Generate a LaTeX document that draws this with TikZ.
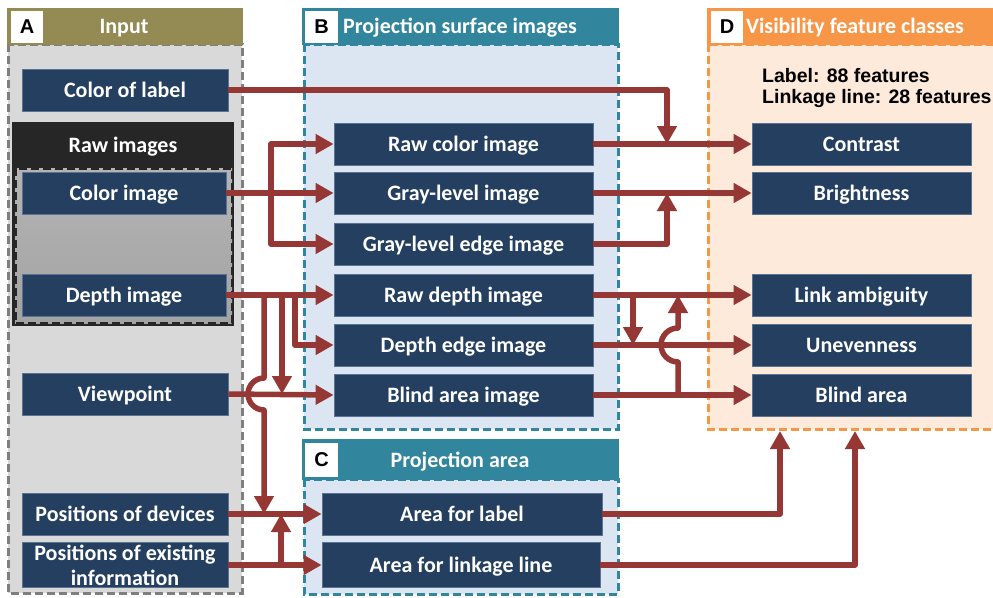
\documentclass[tikz,border=0pt]{standalone}
\usepackage{fontspec}
\setmainfont{Carlito}
\newfontfamily\arialfont{Liberation Sans}
\usetikzlibrary{arrows.meta,calc}

\definecolor{boxblue}{HTML}{243F60}
\definecolor{boxedge}{HTML}{5A7294}
\definecolor{arrowred}{HTML}{953735}
\definecolor{olivehd}{HTML}{948A54}
\definecolor{tealhd}{HTML}{31859C}
\definecolor{orangehd}{HTML}{F79646}
\definecolor{afill}{HTML}{D9D9D9}
\definecolor{aedge}{HTML}{7F7F7F}
\definecolor{bfill}{HTML}{DCE6F2}
\definecolor{dfill}{HTML}{FDEADA}
\definecolor{rawblack}{HTML}{262626}
\definecolor{rawtop}{HTML}{B4B4B4}
\definecolor{rawbot}{HTML}{A3A3A3}

\begin{document}
\begin{tikzpicture}[x=1pt,y=-1pt,
  box/.style={rectangle, fill=boxblue, draw=boxedge, line width=0.8pt,
    text=white, inner sep=0pt, align=center,
    font=\bfseries\fontsize{22}{25}\selectfont},
  sbox/.style={box, text height=16pt, text depth=2pt},
  lbox/.style={sbox, minimum width=206pt, minimum height=42pt},
  bbox/.style={sbox, minimum width=259pt, minimum height=42pt},
  dbox/.style={sbox, minimum width=219pt, minimum height=42pt},
  letter/.style={rectangle, fill=white, inner sep=0pt, minimum width=32pt,
    minimum height=32pt, font=\arialfont\bfseries\fontsize{20}{20}\selectfont},
  headtext/.style={text=white, inner sep=0pt, text height=16pt, text depth=2pt,
    font=\bfseries\fontsize{22}{22}\selectfont},
  panelborder/.style={line width=3pt, dash pattern=on 8pt off 4pt},
  arr/.style={draw=arrowred, line width=5.5pt, line join=round,
    -{Triangle[length=18pt,width=19pt]}}]

\clip (0,0) rectangle (993,597);
\fill[white] (0,0) rectangle (993,597);

% ---------- Panel A: Input ----------
\fill[afill] (8,44) rectangle (242,593);
\draw[aedge, panelborder] (8,44) rectangle (242,593);
\fill[olivehd] (7,8) rectangle (243,45);
\node[letter] (la) at (27,27) {A};
\node[headtext] (ta) at (124,26) {Input};

% raw images group
\fill[rawblack] (12,122) rectangle (234,326);
\shade[top color=rawtop, bottom color=rawbot] (15,168) rectangle (232,323);
\draw[rawblack, line width=3pt, dash pattern=on 8pt off 4pt] (15,168) rectangle (232,323);
\node[headtext] (rawhd) at (123,145) {Raw images};

\node[lbox] (cl) at (125,90) {Color of label};
\node[lbox, minimum width=204pt] (ci) at (124,193) {Color image};
\node[lbox, minimum width=204pt] (di) at (124,295) {Depth image};
\node[lbox] (vp) at (125,394) {Viewpoint};
\node[lbox] (pd) at (125,514) {Positions of devices};
\node[box, minimum width=206pt, minimum height=45pt] (pe) at (125,565)
  {Positions of existing\\information};

% ---------- Panel B: projection surface images ----------
\fill[bfill] (304,44) rectangle (618,429);
\draw[tealhd, panelborder] (304,44) rectangle (618,429);
\fill[tealhd] (302,8) rectangle (619,45);
\node[letter, minimum width=33pt] (lb) at (321.5,27) {B};
\node[headtext] (tb) at (460,26) {Projection surface images};

\node[bbox] (rci) at (463.5,144) {Raw color image};
\node[bbox] (gli) at (463.5,193) {Gray-level image};
\node[bbox] (gle) at (463.5,244) {Gray-level edge image};
\node[bbox] (rdi) at (463.5,295) {Raw depth image};
\node[bbox] (dei) at (463.5,345) {Depth edge image};
\node[bbox] (bai) at (463.5,395) {Blind area image};

% ---------- Panel C: projection area ----------
\fill[bfill] (304,479) rectangle (618,594);
\draw[tealhd, panelborder] (304,479) rectangle (618,594);
\fill[tealhd] (302,439) rectangle (619,480);
\node[letter, minimum width=33pt, minimum height=34pt] (lc) at (321.5,460) {C};
\node[headtext] (tc) at (460,460) {Projection area};

\node[sbox, minimum width=280pt, minimum height=42pt] (afl) at (462,514) {Area for label};
\node[sbox, minimum width=278pt, minimum height=45pt] (afll) at (461,565) {Area for linkage line};

% ---------- Panel D: visibility feature classes ----------
\fill[dfill] (708,44) rectangle (1000,429);
\draw[orangehd, panelborder] (708,44) rectangle (1000,429);
\fill[orangehd] (707,8) rectangle (1000,45);
\node[letter] (ld) at (727,27) {D};
\node[headtext] (td) at (855,26) {Visibility feature classes};

\node[anchor=base west, inner sep=0pt, font=\arialfont\bfseries\fontsize{19.5}{20}\selectfont]
  (nlab) at (762,82) {Label: 88 features};
\node[anchor=base west, inner sep=0pt, font=\arialfont\bfseries\fontsize{19.5}{20}\selectfont]
  (nlnk) at (762,103) {Linkage line: 28 features};

\node[dbox] (con) at (861.5,144) {Contrast};
\node[dbox] (bri) at (861.5,193) {Brightness};
\node[dbox] (lam) at (861.5,295) {Link ambiguity};
\node[dbox] (une) at (861.5,345) {Unevenness};
\node[dbox] (bla) at (861.5,395) {Blind area};

% ---------- junction points ----------
\coordinate (jc1) at (667,144);
\coordinate (jc2) at (667,193);
\coordinate (jr1) at (633,295);
\coordinate (jr2) at (678,395);
\coordinate (jl1) at (271,193);
\coordinate (jd1) at (264,295);
\coordinate (jd2) at (282,295);
\coordinate (jd3) at (295,295);
\coordinate (jp)  at (281,565);
\coordinate (ja1) at (780,431);
\coordinate (ja2) at (855,431);

% ---------- connectors: B to D ----------
\draw[arr] (cl.east) -| (jc1);
\draw[arr] (rci.east) -- (con.west);
\draw[arr] (gli.east) -- (bri.west);
\draw[arr] (gle.east) -| (jc2);
\draw[arr] (rdi.east) -- (lam.west);
\draw[arr] (dei.east) -- (une.west);
\draw[arr] (bai.east) -- (bla.west);
\draw[arr] (jr1) -- (jr1 |- une.west);
\draw[arr] (jr2) -- (678,362) arc[start angle=270, end angle=90, radius=17pt]
  -- (jr2 |- lam.west);

% ---------- connectors: A to B ----------
\draw[arr] (ci.east) -- (gli.west);
\draw[arr] (jl1) |- (rci.west);
\draw[arr] (jl1) |- (gle.west);
\draw[arr] (di.east) -- (rdi.west);
\draw[arr] (jd3) |- (dei.west);
\draw[arr] (jd2) -- (jd2 |- vp.east);
\draw[arr] (jd1) -- (264,378) arc[start angle=90, end angle=270, radius=16pt]
  -- (jd1 |- pd.east);
\draw[arr] (vp.east) -- (bai.west);

% ---------- connectors: A to C, C to D ----------
\draw[arr] (pd.east) -- (afl.west);
\draw[arr] (pe.east) -- (afll.west);
\draw[arr] (jp) -- (jp |- pd.east);
\draw[arr] (afl.east) -| (ja1);
\draw[arr] (afll.east) -| (ja2);

\end{tikzpicture}
\end{document}
